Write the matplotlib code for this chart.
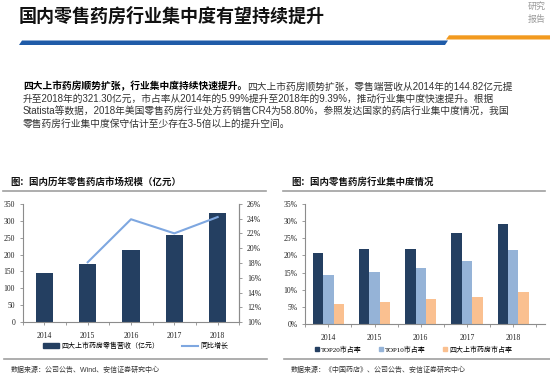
import matplotlib
matplotlib.use("Agg")
import matplotlib.pyplot as plt
from matplotlib.lines import Line2D
from matplotlib.patches import Polygon, Patch

plt.rcParams['font.family'] = ['Noto Sans CJK SC', 'DejaVu Sans']

W, H = 550, 377

# data
years = ["2014", "2015", "2016", "2017", "2018"]
revenue = [144.82, 171, 212, 258.5, 321.30]          # 四大上市药房零售营收（亿元）
growth_years = ["2015", "2016", "2017", "2018"]
growth = [18.1, 23.9, 22.0, 24.2]                     # 同比增长 %

top20 = [20.6, 21.8, 21.8, 26.4, 29.1]
top10 = [14.3, 15.2, 16.2, 18.5, 21.5]
big4 = [5.99, 6.4, 7.25, 8.0, 9.39]

NAVY = "#243F61"
LIGHT = "#95B3D7"
ORANGE = "#FAC090"
LINE = "#7EA7E0"
SPINE = "#8C8C8C"
SERIF = ["Liberation Serif", "DejaVu Serif"]
BODY = ["Liberation Sans", "Noto Sans CJK SC", "DejaVu Sans"]
SERIF_CJK = ["Liberation Serif", "Noto Sans CJK SC", "DejaVu Sans"]


def fx(x):
    return x / W


def fy(y):
    return 1 - y / H


def hline(fig, x0, x1, y, color="#A0A0A0", lw=1.2):
    fig.add_artist(Line2D([fx(x0), fx(x1)], [fy(y), fy(y)], color=color, lw=lw,
                          transform=fig.transFigure))


fig = plt.figure(figsize=(5.5, 3.77), dpi=100)

# header
fig.text(fx(19), fy(16.5), "国内零售药房行业集中度有望持续提升", fontsize=13,
         fontweight="bold", color="#111111", va="center", ha="left")
fig.text(fx(528), fy(6), "研究", fontsize=6.5, color="#9A9A9A", va="center")
fig.text(fx(528), fy(19), "报告", fontsize=6.5, color="#9A9A9A", va="center")
blue = Polygon([(fx(19), fy(45)), (fx(22), fy(40.5)), (fx(448), fy(40.5)), (fx(445), fy(45))],
               closed=True, transform=fig.transFigure, color="#1F5BA8", lw=0)
orange = Polygon([(fx(446), fy(39.5)), (fx(449), fy(35.3)), (fx(550), fy(35.3)), (fx(550), fy(39.5))],
                 closed=True, transform=fig.transFigure, color="#F29A1F", lw=0)
fig.add_artist(blue)
fig.add_artist(orange)

# paragraph
fs = 7
bold = fig.text(fx(23), fy(86.4), "四大上市药房顺势扩张，行业集中度持续快速提升。", fontsize=fs,
                fontweight="bold", color="#000000", va="center", family=BODY)
fig.canvas.draw()
bb = bold.get_window_extent(fig.canvas.get_renderer())
fig.text(bb.x1 / fig.bbox.width, fy(86.4), "四大上市药房顺势扩张，零售端营收从2014年的144.82亿元提",
         fontsize=fs, color="#333333", va="center", family=BODY)
para = [
    "升至2018年的321.30亿元，市占率从2014年的5.99%提升至2018年的9.39%，推动行业集中度快速提升。根据",
    "Statista等数据，2018年美国零售药房行业处方药销售CR4为58.80%，参照发达国家的药店行业集中度情况，我国",
    "零售药房行业集中度保守估计至少存在3-5倍以上的提升空间。",
]
for i, line in enumerate(para):
    fig.text(fx(23), fy(98.8 + 12.35 * i), line, fontsize=fs, color="#333333", va="center",
             family=BODY)

# chart titles and rules
fig.text(fx(10.5), fy(181.6), "图：国内历年零售药店市场规模（亿元）", fontsize=6.8,
         fontweight="bold", color="#111111", va="center")
fig.text(fx(291), fy(181.6), "图：国内零售药房行业集中度情况", fontsize=6.8,
         fontweight="bold", color="#111111", va="center")
hline(fig, 3, 266, 190.7)
hline(fig, 283, 545, 190.7)
hline(fig, 3.5, 267, 358.5)
hline(fig, 284, 550, 358.5)
fig.text(fx(10.5), fy(370), "数据来源：公司公告、Wind、安信证券研究中心", fontsize=5,
         color="#333333", va="center", family=BODY)
fig.text(fx(291), fy(370), "数据来源：《中国药店》、公司公告、安信证券研究中心", fontsize=5,
         color="#333333", va="center", family=BODY)


def style_axis(ax):
    for s in ax.spines.values():
        s.set_color(SPINE)
        s.set_linewidth(0.8)
    ax.tick_params(axis="both", colors=SPINE, labelcolor="#222222", labelsize=5.5,
                   length=2, width=0.6)
    for lab in ax.get_xticklabels() + ax.get_yticklabels():
        lab.set_family(SERIF)


# left chart
ax1 = fig.add_axes([fx(22.7), fy(322.3), fx(239.3) - fx(22.7), fy(203.7) - fy(322.3)])
x = list(range(len(years)))
ax1.bar(x, revenue, width=0.4, color=NAVY, label="四大上市药房零售营收（亿元）", zorder=2)
ax1.set_xlim(-0.5, 4.5)
ax1.set_ylim(0, 350)
ax1.set_yticks(range(0, 351, 50))
ax1.set_xticks(x)
ax1.set_xticklabels(years)
ax1.set_xticks([i + 0.5 for i in range(-1, 5)], minor=True)
ax1.tick_params(axis="x", which="major", length=0, pad=5)
ax1.tick_params(axis="x", which="minor", length=2, color=SPINE, width=0.6)
ax1.spines["top"].set_visible(False)
style_axis(ax1)

ax2 = ax1.twinx()
gx = [years.index(y) for y in growth_years]
ax2.plot(gx, growth, color=LINE, lw=1.5, label="同比增长", zorder=3)
ax2.set_ylim(10, 26)
ax2.set_yticks(range(10, 27, 2))
ax2.set_yticklabels([f"{v}%" for v in range(10, 27, 2)])
ax2.spines["top"].set_visible(False)
ax2.spines["left"].set_visible(False)
style_axis(ax2)
ax2.spines["bottom"].set_visible(False)

h1 = [Patch(color=NAVY), Line2D([0], [0], color=LINE, lw=1.5)]
fig.legend(h1, ["四大上市药房零售营收（亿元）", "同比增长"], loc="center left",
           bbox_to_anchor=(fx(37), fy(346)), frameon=False, ncol=2, fontsize=5,
           handlelength=2.3, handleheight=0.6, handletextpad=0.3, columnspacing=3.3)

# right chart
ax3 = fig.add_axes([fx(305.2), fy(324.3), fx(545) - fx(305.2), fy(203.7) - fy(324.3)])
bw = 0.225
ax3.bar([i - bw for i in x], top20, width=bw, color=NAVY, zorder=2)
ax3.bar(x, top10, width=bw, color=LIGHT, zorder=2)
ax3.bar([i + bw for i in x], big4, width=bw, color=ORANGE, zorder=2)
ax3.set_xlim(-0.5, 4.69)
ax3.set_ylim(0, 35)
ax3.set_yticks(range(0, 36, 5))
ax3.set_yticklabels([f"{v}%" for v in range(0, 36, 5)])
ax3.set_xticks(x)
ax3.set_xticklabels(years)
ax3.set_xticks([i + 0.5 for i in range(-1, 5)], minor=True)
ax3.tick_params(axis="x", which="major", length=0, pad=5)
ax3.tick_params(axis="x", which="minor", length=2, color=SPINE, width=0.6)
ax3.spines["top"].set_visible(False)
ax3.spines["right"].set_visible(False)
style_axis(ax3)

h3 = [Patch(color=NAVY), Patch(color=LIGHT), Patch(color=ORANGE)]
leg3 = fig.legend(h3, ["TOP20市占率", "TOP10市占率", "四大上市药房市占率"], loc="center left",
                  bbox_to_anchor=(fx(309), fy(349)), frameon=False, ncol=3, fontsize=5,
                  handlelength=0.55, handleheight=0.55, handletextpad=0.3, columnspacing=2.5)
for t in leg3.get_texts():
    t.set_family(SERIF_CJK)

fig.savefig("out.png", dpi=100)
